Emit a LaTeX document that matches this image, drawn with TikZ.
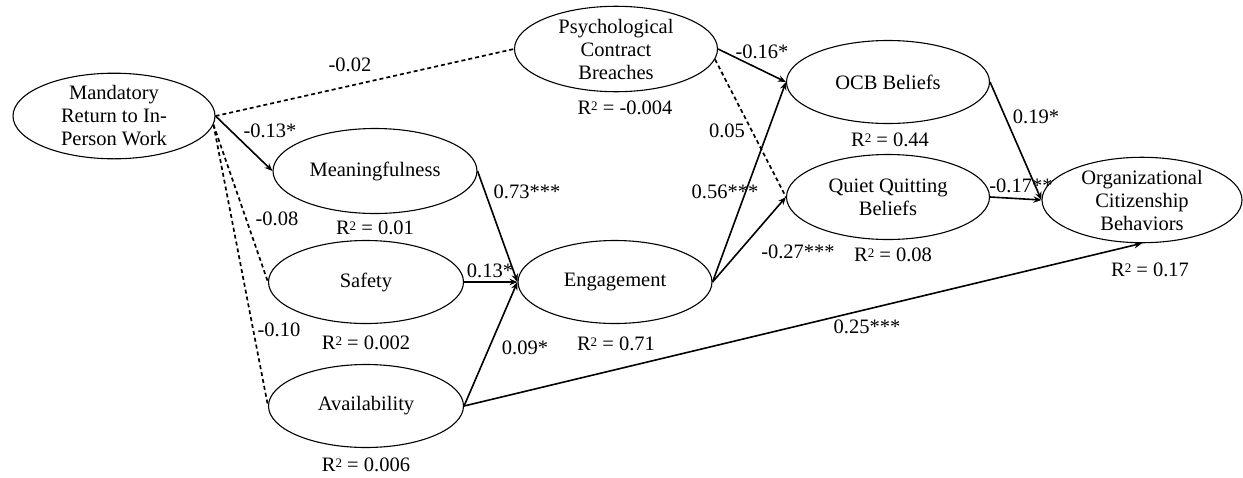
\documentclass[tikz,border=0pt]{standalone}
\usepackage{fontspec}
\setmainfont{Liberation Serif}
\usetikzlibrary{shapes.geometric,arrows.meta}
\newcommand{\rsq}{R\raisebox{0.45ex}{\fontsize{13}{13}\selectfont 2}}
\begin{document}
\begin{tikzpicture}[x=1pt,y=-1pt,
  lat/.style={draw,ellipse,line width=1.1pt,inner sep=0pt,align=center,
    font=\fontsize{20.5}{23}\selectfont},
  lbl/.style={font=\fontsize{20.5}{23}\selectfont,inner sep=0pt},
  sig/.style={line width=1.6pt,-{Stealth[length=8pt,width=6.5pt]}},
  ns/.style={line width=1.7pt,dash pattern=on 4pt off 3pt},
]
\useasboundingbox (0,0) rectangle (1243,477);
\node[lat,minimum width=202pt,minimum height=83pt] (mrt) at (114,116) {Mandatory\\Return to In-\\Person Work};
\node[lat,minimum width=204pt,minimum height=85pt] (mea) at (375,171) {Meaningfulness};
\node[lat,minimum width=195pt,minimum height=83pt] (saf) at (366,282) {Safety};
\node[lat,minimum width=195pt,minimum height=83pt] (ava) at (366,406) {Availability};
\node[lat,minimum width=194pt,minimum height=83pt] (eng) at (615,282) {Engagement};
\node[lat,minimum width=203pt,minimum height=85pt] (pcb) at (616,49) {Psychological\\Contract\\Breaches};
\node[lat,minimum width=203pt,minimum height=83pt] (ocbb) at (888,82) {OCB Beliefs};
\node[lat,minimum width=203pt,minimum height=85pt] (qqb) at (888,197) {Quiet Quitting\\Beliefs};
\node[lat,minimum width=200pt,minimum height=84pt] (ocb) at (1142,200) {Organizational\\Citizenship\\Behaviors};

\node[lbl] (r1) at (375,228) {\rsq{} = 0.01};
\node[lbl] (r2) at (625,108) {\rsq{} = -0.004};
\node[lbl] (r3) at (890,140) {\rsq{} = 0.44};
\node[lbl] (r4) at (893,255) {\rsq{} = 0.08};
\node[lbl] (r5) at (366,343) {\rsq{} = 0.002};
\node[lbl] (r6) at (616,344) {\rsq{} = 0.71};
\node[lbl] (r7) at (366,465) {\rsq{} = 0.006};
\node[lbl] (r8) at (1150,270) {\rsq{} = 0.17};

\draw[ns] (mrt.east) -- (pcb.west);
\draw[sig] (mrt.east) -- (mea.west);
\draw[ns] (mrt.-5) -- (saf.west);
\draw[ns] (mrt.-5) -- (ava.west);
\draw[sig] (mea.east) -- (eng.west);
\draw[sig] (saf.east) -- (eng.west);
\draw[sig] (ava.east) -- (eng.west);
\draw[sig] (ava.east) -- (ocb.south);
\draw[sig] (eng.east) -- (ocbb.west);
\draw[sig] (eng.east) -- (qqb.west);
\draw[sig] (pcb.east) -- (ocbb.west);
\draw[ns] (pcb.-6) -- (qqb.west);
\draw[sig] (ocbb.east) -- (ocb.west);
\draw[sig] (qqb.east) -- (ocb.west);

\node[lbl] (l1) at (350,65) {-0.02};
\node[lbl] (l2) at (270,131) {-0.13*};
\node[lbl] (l3) at (277,219) {-0.08};
\node[lbl] (l4) at (279,330) {-0.10};
\node[lbl] (l5) at (527,192) {0.73***};
\node[lbl] (l6) at (490,271) {0.13*};
\node[lbl] (l7) at (525,348) {0.09*};
\node[lbl] (l8) at (867,327) {0.25***};
\node[lbl] (l9) at (725,192) {0.56***};
\node[lbl] (l10) at (798,252) {-0.27***};
\node[lbl] (l11) at (762,52) {-0.16*};
\node[lbl] (l12) at (727,131) {0.05};
\node[lbl] (l13) at (1036,117) {0.19*};
\node[lbl] (l14) at (1021,186) {-0.17**};
\end{tikzpicture}
\end{document}
